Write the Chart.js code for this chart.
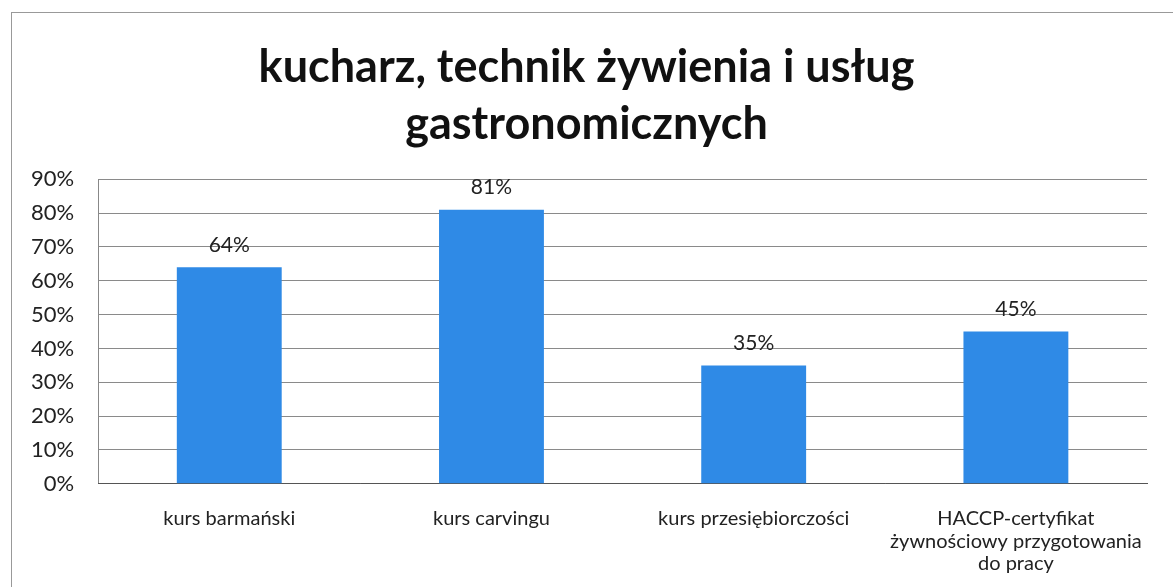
<!DOCTYPE html>
<html>
<head>
<meta charset="utf-8">
<script src="https://cdn.jsdelivr.net/npm/chart.js@4.4.0/dist/chart.umd.min.js"></script>
<style>
  html, body { margin: 0; padding: 0; background: #fff; }
</style>
</head>
<body>
<canvas id="canvas" width="1173" height="587"></canvas>
<script>
const chartTitle = ['kucharz, technik żywienia i usług', 'gastronomicznych'];
const categories = [
    'kurs barmański',
    'kurs carvingu',
    'kurs przesiębiorczości',
    ['HACCP-certyfikat', 'żywnościowy przygotowania', 'do pracy']
];
const values = [64, 81, 35, 45];
const yTicks = [0, 10, 20, 30, 40, 50, 60, 70, 80, 90];

// etykiety nad słupkami
const valueLabels = {
    id: 'valueLabels',
    afterDatasetsDraw(chart) {
        const ctx = chart.ctx;
        const meta = chart.getDatasetMeta(0);
        ctx.save();
        ctx.font = '21px Lato';
        ctx.fillStyle = '#222';
        ctx.textAlign = 'center';
        ctx.textBaseline = 'bottom';
        meta.data.forEach((bar, i) => {
            ctx.fillText(values[i] + '%', bar.x, bar.y - 12);
        });
        ctx.restore();
    }
};

// ramka wokół całego wykresu
const frame = {
    id: 'frame',
    beforeDraw(chart) {
        const ctx = chart.ctx;
        ctx.save();
        ctx.strokeStyle = '#999';
        ctx.lineWidth = 1;
        ctx.strokeRect(11.5, 12.5, 1300, 700);
        ctx.restore();
    }
};

const ctx = document.getElementById('canvas').getContext('2d');
const myChart = new Chart(ctx, {
    type: 'bar',
    data: {
        labels: categories,
        datasets: [{
            data: values,
            backgroundColor: '#2f8ae6',
            categoryPercentage: 0.8,
            barPercentage: 0.5
        }]
    },
    options: {
        responsive: false,
        animation: false,
        layout: { padding: { left: 26, right: 26, top: 20, bottom: -12 } },
        plugins: {
            legend: { display: false },
            tooltip: { enabled: false },
            title: {
                display: true,
                text: chartTitle,
                color: '#111',
                font: { family: 'Lato', size: 45, weight: 'bold', lineHeight: 1.27 },
                padding: { top: 19, bottom: 26 }
            }
        },
        scales: {
            y: {
                min: 0,
                max: 90,
                afterBuildTicks(axis) {
                    axis.ticks = yTicks.map(v => ({ value: v }));
                },
                // etykiety wchodzą w lewy margines, żeby tytuł był na środku
                afterFit(axis) {
                    axis.width -= 19;
                },
                ticks: {
                    callback: v => v + '%',
                    color: '#222',
                    font: { family: 'Lato', size: 22 },
                    padding: 24
                },
                grid: { color: '#8a8a8a', drawTicks: false },
                border: { color: '#888' }
            },
            x: {
                ticks: {
                    color: '#222',
                    font: { family: 'Lato', size: 20, lineHeight: 1.12 },
                    maxRotation: 0,
                    padding: 24
                },
                grid: { display: false, drawTicks: false },
                border: { color: '#555' }
            }
        }
    },
    plugins: [valueLabels, frame]
});
</script>
</body>
</html>
